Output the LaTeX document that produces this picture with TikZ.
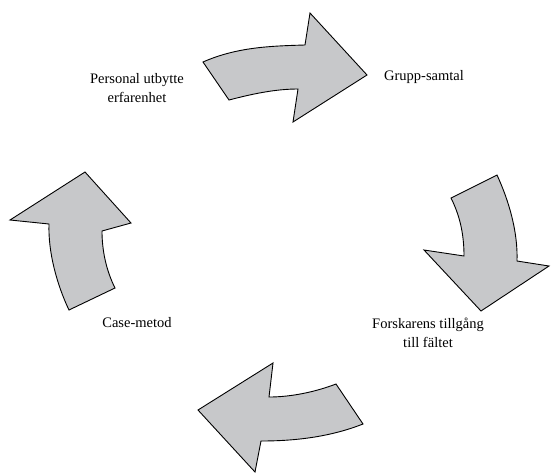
\documentclass[tikz,border=0pt]{standalone}
\usepackage{fontspec}
\setmainfont{Liberation Serif}
\usepackage{xcolor}
\definecolor{arrowgray}{RGB}{199,200,202}
\tikzset{
    bigarrow/.style={fill=arrowgray, draw=black, line width=0.9pt, line join=miter},
    steplabel/.style={align=center, font=\fontsize{14.5}{18.5}\selectfont},
}

\begin{document}
\begin{tikzpicture}[x=1pt, y=-1pt]% 1 unit = 1 pixel of the reference %%%
\useasboundingbox (0,0) rectangle (551,472);

% top arrow, pointing right
\draw[bigarrow] (203,62) .. controls (237,47) and (271,46) .. (305,45) -- (310,13) -- (367,75)
      -- (293,122) -- (298,89) .. controls (275,89) and (252,94) .. (229,100) -- cycle;
% right arrow, pointing down
\draw[bigarrow] (451,198) -- (497,175) .. controls (509,201) and (518,232) .. (517,261) -- (549,266)
      -- (481,311) -- (424,250) -- (464,256) .. controls (464,232) and (459,214) .. cycle;
% bottom arrow, pointing left
\draw[bigarrow] (336,384) -- (363,424) .. controls (330,437) and (295,441) .. (261,441) -- (255,472)
      -- (198,410) -- (273,363) -- (269,397) .. controls (291,397) and (315,392) .. cycle;
% left arrow, pointing up
\draw[bigarrow] (69,310) -- (115,288) .. controls (106,270) and (102,250) .. (102,231) -- (131,223)
      -- (85,172) -- (10,220) -- (49,224) .. controls (48,252) and (57,285) .. cycle;

\node[steplabel] (personal) at (137,88) {Personal utbytte\\erfarenhet};
\node[steplabel] (grupp)    at (424,77) {Grupp-samtal};
\node[steplabel] (forskare) at (428,333) {Forskarens tillgång\\till fältet};
\node[steplabel] (casem)    at (137,323) {Case-metod};
\end{tikzpicture}
\end{document}
